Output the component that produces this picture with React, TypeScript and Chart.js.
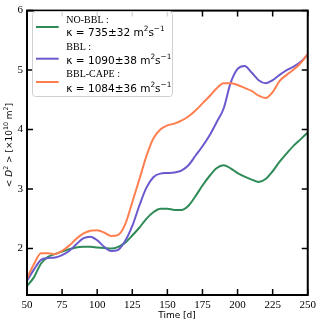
import React, { useEffect, useRef } from "react";
import { Chart, registerables } from "chart.js";
Chart.register(...registerables);

const times = [50,55,60,65,70,75,80,85,90,95,100,105,110,115,120,125,130,135,140,145,150,155,160,165,170,175,180,185,190,195,200,205,210,215,220,225,230,235,240,245,250];
const noBbl = [1.37,1.52,1.75,1.86,1.91,1.95,1.99,2.02,2.03,2.03,2.02,2.01,2.0,2.03,2.1,2.22,2.35,2.5,2.61,2.67,2.67,2.65,2.65,2.72,2.88,3.06,3.22,3.35,3.4,3.35,3.27,3.21,3.16,3.12,3.17,3.3,3.46,3.6,3.73,3.84,3.95];
const bbl = [1.46,1.65,1.81,1.84,1.85,1.89,1.96,2.07,2.17,2.2,2.14,2.03,1.96,1.98,2.13,2.38,2.72,3.02,3.2,3.26,3.27,3.28,3.31,3.4,3.56,3.72,3.9,4.12,4.35,4.78,5.02,5.07,4.96,4.83,4.78,4.83,4.92,5.0,5.06,5.14,5.26];
const bblCape = [1.5,1.74,1.92,1.92,1.91,1.96,2.05,2.16,2.25,2.3,2.31,2.27,2.21,2.23,2.41,2.78,3.16,3.55,3.85,4.0,4.07,4.1,4.15,4.22,4.32,4.44,4.56,4.69,4.78,4.78,4.75,4.7,4.65,4.57,4.53,4.63,4.82,4.92,5.01,5.12,5.27];

const seriesNames = ["NO-BBL :", "BBL :", "BBL-CAPE :"];
const kappaValues = ["735\u00b132", "1090\u00b138", "1084\u00b136"];
const colors = ["#2e8b57", "#6a5acd", "#ff7f50"];
const xTicks = [50, 75, 100, 125, 150, 175, 200, 225, 250];
const yTicks = [2, 3, 4, 5, 6];

function drawSegs(ctx: CanvasRenderingContext2D, segs: any[], x: number, y: number, size: number, family: string) {
  let cx = x;
  for (const s of segs) {
    const fs = s.sup ? size * 0.7 : size;
    ctx.font = `${s.italic ? "italic " : ""}${fs}px ${family}`;
    ctx.fillText(s.t, cx, s.sup ? y - size * 0.4 : y);
    cx += ctx.measureText(s.t).width;
  }
  return cx - x;
}
function segsWidth(ctx: CanvasRenderingContext2D, segs: any[], size: number, family: string) {
  let w = 0;
  for (const s of segs) {
    const fs = s.sup ? size * 0.7 : size;
    ctx.font = `${s.italic ? "italic " : ""}${fs}px ${family}`;
    w += ctx.measureText(s.t).width;
  }
  return w;
}

const framePlugin = {
  id: "frame",
  afterDraw(chart: any) {
    const ctx = chart.ctx as CanvasRenderingContext2D;
    const a = chart.chartArea;
    const xs = chart.scales.x;
    const ys = chart.scales.y;
    ctx.save();
    ctx.strokeStyle = "#000";
    ctx.lineWidth = 1.5;
    const tl = 6;
    ctx.beginPath();
    for (const t of xTicks) {
      const px = xs.getPixelForValue(t);
      ctx.moveTo(px, a.bottom); ctx.lineTo(px, a.bottom - tl);
      ctx.moveTo(px, a.top); ctx.lineTo(px, a.top + tl);
    }
    for (const t of yTicks) {
      const py = ys.getPixelForValue(t);
      ctx.moveTo(a.left, py); ctx.lineTo(a.left + tl, py);
      ctx.moveTo(a.right, py); ctx.lineTo(a.right - tl, py);
    }
    ctx.stroke();
    ctx.lineWidth = 2;
    ctx.strokeRect(a.left, a.top, a.right - a.left, a.bottom - a.top);

    // legend
    const lx = 32.5, ly = 11.5, lw = 140, lh = 85;
    ctx.beginPath();
    (ctx as any).roundRect(lx, ly, lw, lh, 3);
    ctx.fillStyle = "rgba(255,255,255,0.85)";
    ctx.fill();
    ctx.strokeStyle = "#d0d0d0";
    ctx.lineWidth = 1;
    ctx.stroke();
    const nameY = [20.7, 47.7, 74.7];
    const kY = [32, 60, 88];
    const lineY = [27, 58.7, 82];
    ctx.textBaseline = "middle";
    ctx.textAlign = "left";
    for (let i = 0; i < 3; i++) {
      ctx.strokeStyle = colors[i];
      ctx.lineWidth = 2;
      ctx.beginPath();
      ctx.moveTo(36, lineY[i]); ctx.lineTo(58.7, lineY[i]);
      ctx.stroke();
      ctx.fillStyle = "#000";
      ctx.font = "10px 'Liberation Serif'";
      ctx.fillText(seriesNames[i], 66.3, nameY[i]);
      drawSegs(ctx, [
        { t: "\u03ba = " + kappaValues[i] + " m" },
        { t: "2", sup: true },
        { t: "s" },
        { t: "\u22121", sup: true },
      ], 66.3, kY[i] + 1, 10.5, "'DejaVu Sans'");
    }

    // x title
    ctx.fillStyle = "#000";
    ctx.font = "9px 'DejaVu Sans'";
    ctx.textAlign = "center";
    ctx.fillText("Time [d]", 177, 316);

    // y title
    ctx.textAlign = "left";
    const ysegs = [
      { t: "< " },
      { t: "D", italic: true },
      { t: "2", sup: true },
      { t: " > [\u00d710" },
      { t: "10", sup: true },
      { t: " m" },
      { t: "2", sup: true },
      { t: "]" },
    ];
    const fam = "'DejaVu Sans'";
    const w = segsWidth(ctx, ysegs, 9, fam);
    ctx.translate(10, 145);
    ctx.rotate(-Math.PI / 2);
    drawSegs(ctx, ysegs, -w / 2, 0, 9, fam);
    ctx.restore();
  },
};

export default function App() {
  const ref = useRef<HTMLCanvasElement>(null);
  useEffect(() => {
    document.body.style.margin = "0";
    const mk = (label: string, data: number[], color: string, order: number) => ({
      label,
      data: times.map((t, i) => ({ x: t, y: data[i] })),
      borderColor: color,
      backgroundColor: color,
      borderWidth: 2,
      pointRadius: 0,
      tension: 0.4,
      cubicInterpolationMode: "monotone" as const,
      fill: false,
      order,
    });
    const chart = new Chart(ref.current!, {
      type: "line",
      data: {
        datasets: [
          mk(seriesNames[0], noBbl, colors[0], 3),
          mk(seriesNames[1], bbl, colors[1], 2),
          mk(seriesNames[2], bblCape, colors[2], 1),
        ],
      },
      options: {
        animation: false,
        responsive: false,
        layout: { padding: { top: 6, right: 12, left: 0, bottom: 0 } },
        plugins: { legend: { display: false }, tooltip: { enabled: false } },
        scales: {
          x: {
            type: "linear",
            min: 50,
            max: 250,
            afterBuildTicks: (s: any) => { s.ticks = xTicks.map((v) => ({ value: v })); },
            afterFit: (s: any) => { s.height = 30; },
            grid: { display: false, drawTicks: false },
            border: { display: false },
            ticks: { color: "#000", padding: 4, maxRotation: 0, font: { family: "'Liberation Serif'", size: 11 } },
          },
          y: {
            type: "linear",
            min: 1.22,
            max: 6,
            afterBuildTicks: (s: any) => { s.ticks = yTicks.map((v) => ({ value: v })); },
            afterFit: (s: any) => { s.width = 27; },
            grid: { display: false, drawTicks: false },
            border: { display: false },
            ticks: { color: "#000", padding: 4, font: { family: "'Liberation Serif'", size: 11 } },
          },
        },
      },
      plugins: [framePlugin],
    });
    return () => chart.destroy();
  }, []);
  return (
    <div style={{ width: 320, height: 325 }}>
      <canvas ref={ref} width={320} height={325} style={{ display: "block" }} />
    </div>
  );
}
